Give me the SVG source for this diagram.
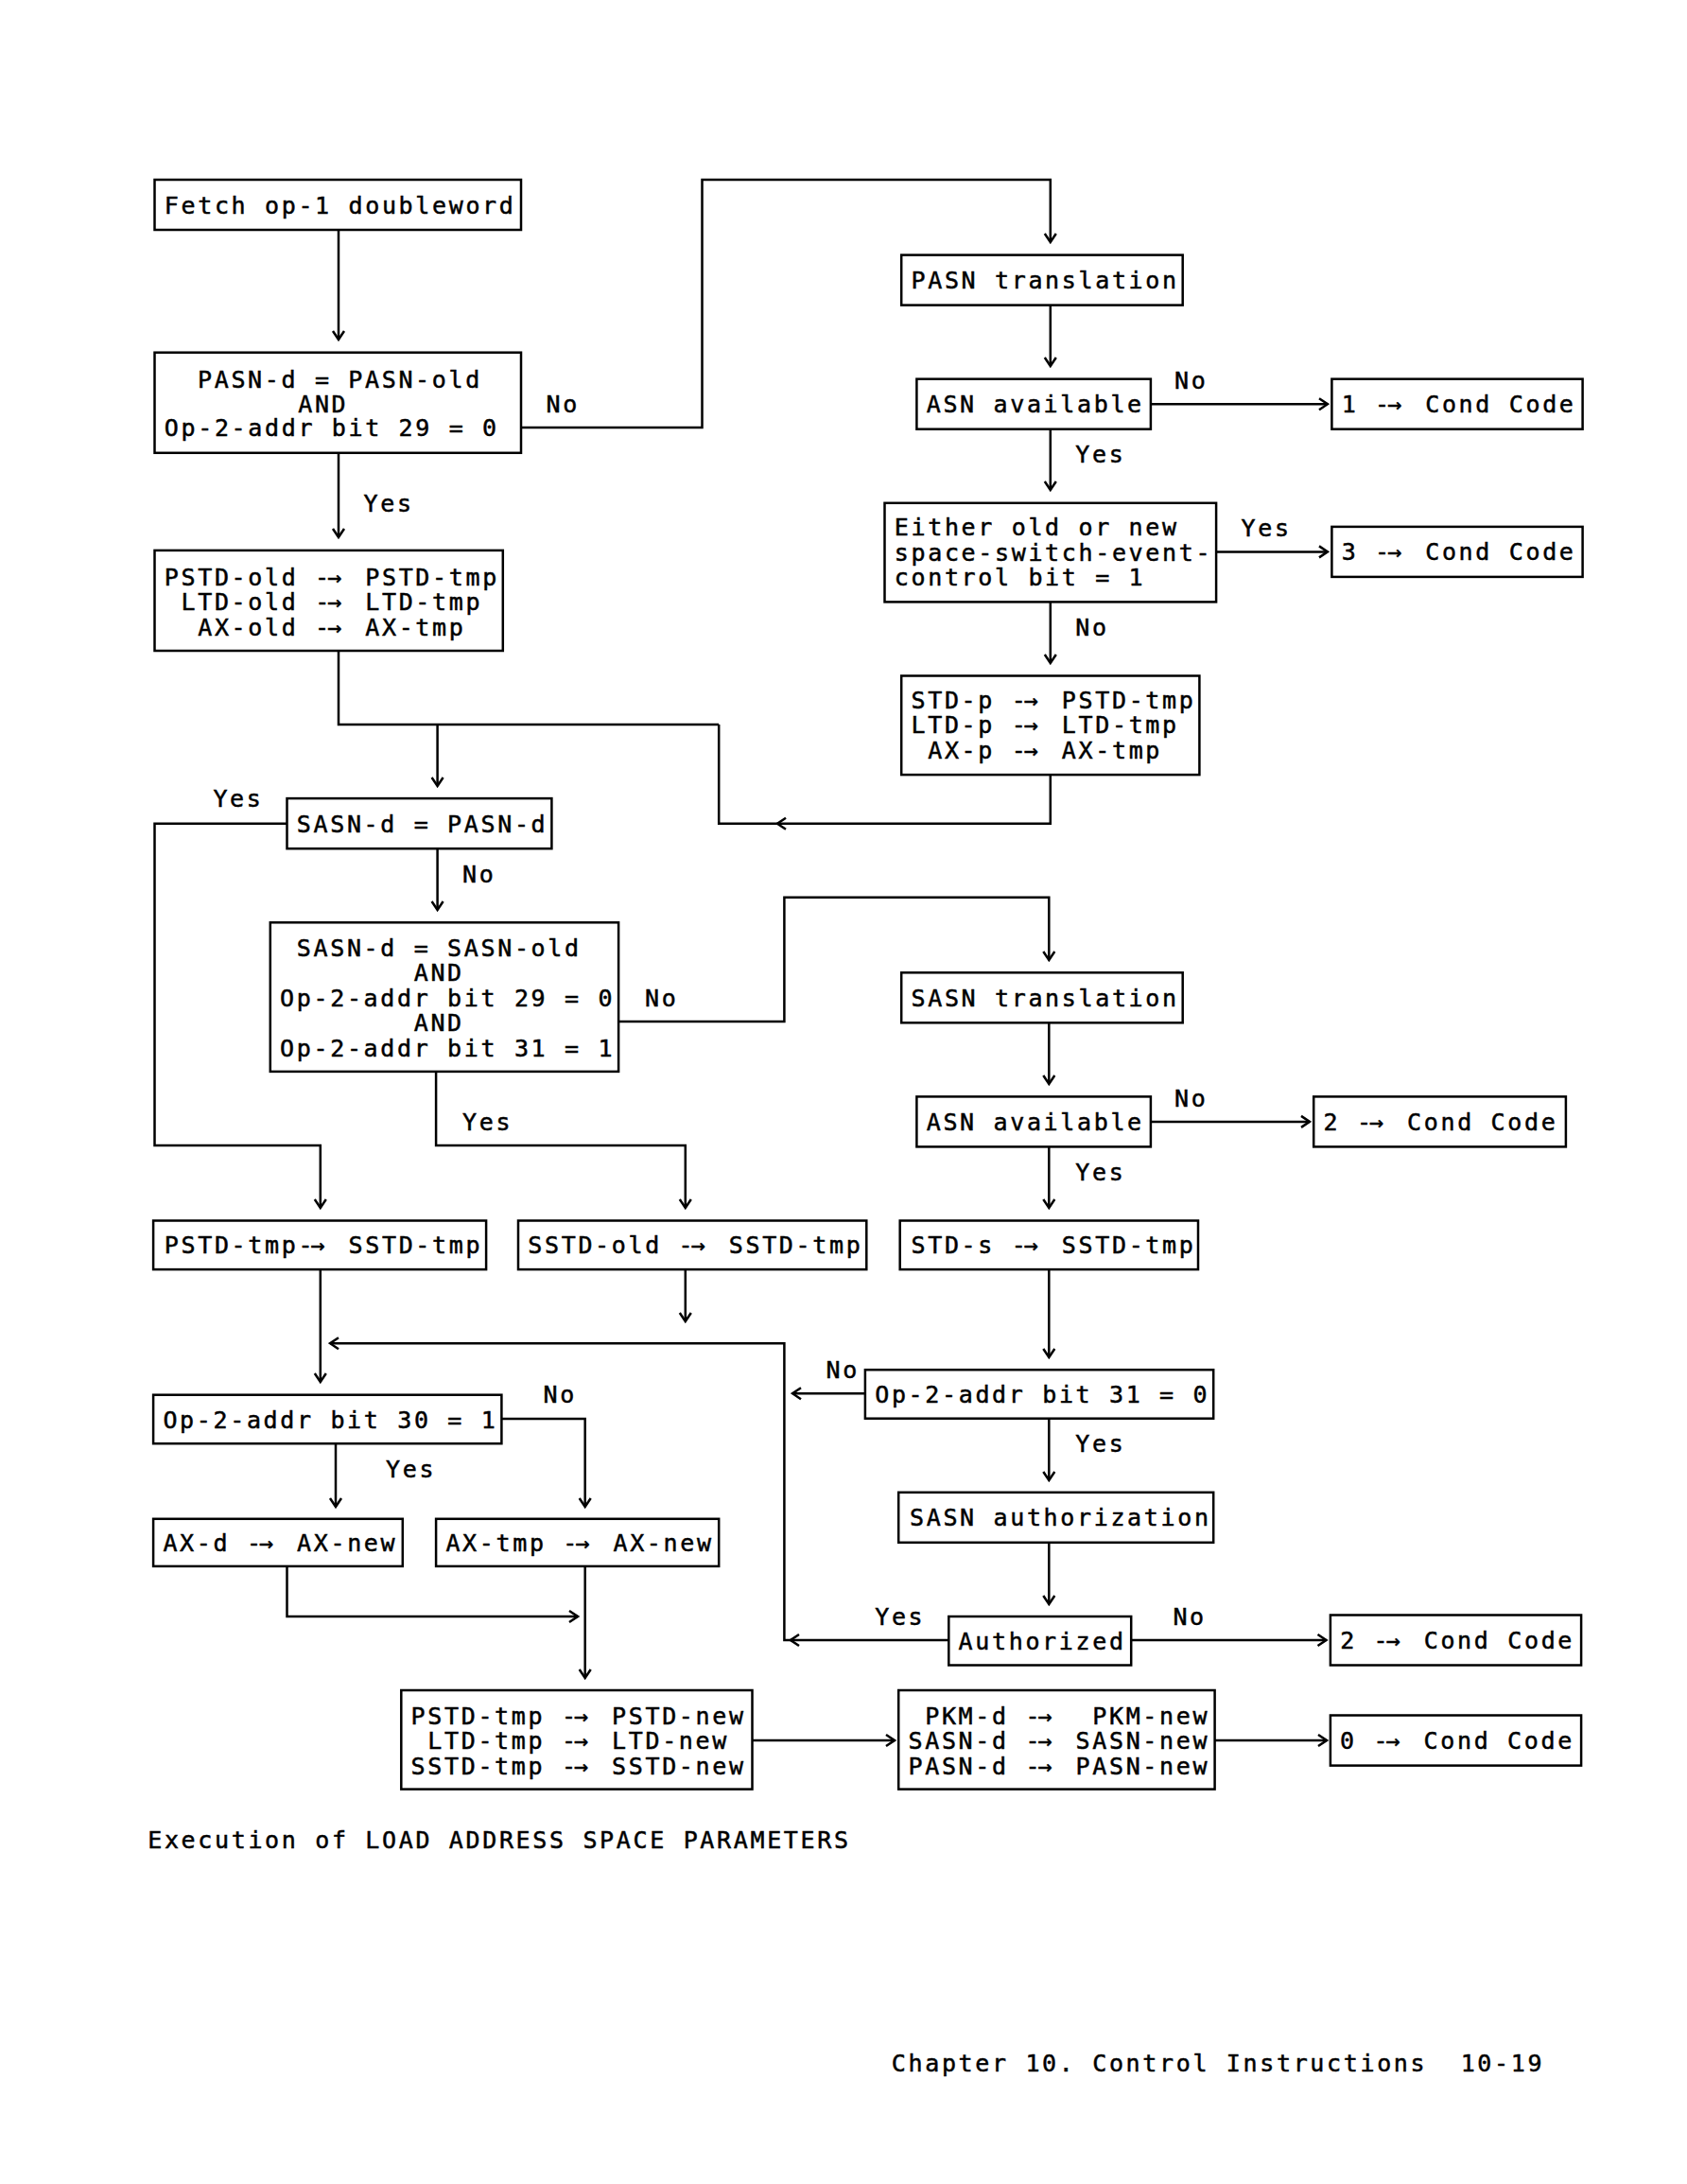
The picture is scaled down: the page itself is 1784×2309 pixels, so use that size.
<svg xmlns="http://www.w3.org/2000/svg" width="1784" height="2309" viewBox="0 0 1784 2309">
<style>
text{font-family:"DejaVu Sans Mono","Liberation Mono",monospace;font-size:25px;letter-spacing:2.65px;fill:#000;stroke:#000;stroke-width:0.5}
.d{letter-spacing:-2px}
.a{letter-spacing:7.3px}
.box{fill:none;stroke:#000;stroke-width:2.5}
.c{fill:none;stroke:#000;stroke-width:2.5}
</style>
<defs>
<marker id="ah" markerWidth="14" markerHeight="16" viewBox="-12 -8 14 16" refX="0" refY="0" orient="auto" markerUnits="userSpaceOnUse">
<path d="M-9,-6 L0,0 L-9,6" fill="none" stroke="#000" stroke-width="2.5"/>
</marker>
</defs>
<rect x="0" y="0" width="1784" height="2309" fill="#fff"/>

<g id="connectors">
<path class="c" d="M358,243 V359" marker-end="url(#ah)"/>
<path class="c" d="M551,452 H742.5 V190 H1110.8 V256" marker-end="url(#ah)"/>
<path class="c" d="M1110.8,322.6 V387" marker-end="url(#ah)"/>
<path class="c" d="M1216.9,427.2 H1404" marker-end="url(#ah)"/>
<path class="c" d="M1110.8,453.7 V518" marker-end="url(#ah)"/>
<path class="c" d="M1286.1,583.4 H1404" marker-end="url(#ah)"/>
<path class="c" d="M1110.8,636.4 V701" marker-end="url(#ah)"/>
<path class="c" d="M358,478.8 V568" marker-end="url(#ah)"/>
<path class="c" d="M358,688 V766 H760.2"/>
<path class="c" d="M1110.8,819.1 V870.7 H760.2 V766"/>
<path class="c" d="M831,864.7 L822,870.7 L831,876.7"/>
<path class="c" d="M462.6,766 V831" marker-end="url(#ah)"/>
<path class="c" d="M303.5,870.7 H163.5 V1211 H338.8 V1277" marker-end="url(#ah)"/>
<path class="c" d="M462.6,897.2 V962" marker-end="url(#ah)"/>
<path class="c" d="M654.1,1079.9 H829.4 V948.7 H1109.3 V1015" marker-end="url(#ah)"/>
<path class="c" d="M461.1,1132.9 V1211 H724.8 V1277" marker-end="url(#ah)"/>
<path class="c" d="M1109.3,1081.3 V1146" marker-end="url(#ah)"/>
<path class="c" d="M1216.9,1185.9 H1385" marker-end="url(#ah)"/>
<path class="c" d="M1109.3,1212.4 V1277" marker-end="url(#ah)"/>
<path class="c" d="M338.8,1342.1 V1461" marker-end="url(#ah)"/>
<path class="c" d="M724.8,1342.1 V1397" marker-end="url(#ah)"/>
<path class="c" d="M1109.3,1342.1 V1435" marker-end="url(#ah)"/>
<path class="c" d="M914.9,1473.2 H838" marker-end="url(#ah)"/>
<path class="c" d="M836,1734 H829.4 V1420.2 H349" marker-end="url(#ah)"/>
<path class="c" d="M1003.3,1734 H836" marker-end="url(#ah)"/>
<path class="c" d="M1196.2,1734 H1402.5" marker-end="url(#ah)"/>
<path class="c" d="M1109.3,1499.7 V1565" marker-end="url(#ah)"/>
<path class="c" d="M1109.3,1630.8 V1696" marker-end="url(#ah)"/>
<path class="c" d="M355,1526.2 V1593" marker-end="url(#ah)"/>
<path class="c" d="M530.4,1500 H618.7 V1593" marker-end="url(#ah)"/>
<path class="c" d="M303.5,1655.9 V1709 H611" marker-end="url(#ah)"/>
<path class="c" d="M618.7,1655.9 V1774" marker-end="url(#ah)"/>
<path class="c" d="M795.5,1840 H946" marker-end="url(#ah)"/>
<path class="c" d="M1284.6,1840 H1403" marker-end="url(#ah)"/>
</g>

<g id="labels">
<text x="577.5" y="436">No</text>
<text x="1242" y="411">No</text>
<text x="1137.3" y="489">Yes</text>
<text x="1312.6" y="567">Yes</text>
<text x="1137.3" y="672">No</text>
<text x="384.5" y="541">Yes</text>
<text x="225.4" y="853">Yes</text>
<text x="489" y="933">No</text>
<text x="682" y="1064">No</text>
<text x="489" y="1195">Yes</text>
<text x="1242" y="1170">No</text>
<text x="1137.3" y="1248">Yes</text>
<text x="873.6" y="1457">No</text>
<text x="1137.3" y="1535">Yes</text>
<text x="925.2" y="1718">Yes</text>
<text x="1240.4" y="1718">No</text>
<text x="574.5" y="1483">No</text>
<text x="408" y="1562">Yes</text>
</g>

<g id="n-fetch"><rect class="box" x="163.5" y="190" width="387.5" height="53"/><text x="173.8" y="225.5">Fetch op-1 doubleword</text></g>
<g id="n-pasn-cmp"><rect class="box" x="163.5" y="372.7" width="387.5" height="106.1"/>
<text x="209" y="410">PASN-d = PASN-old</text><text x="315.2" y="436">AND</text><text x="173.8" y="461">Op-2-addr bit 29 = 0</text></g>
<g id="n-pasn-trans"><rect class="box" x="953.2" y="269.6" width="297.5" height="53"/><text x="963.5" y="305">PASN translation</text></g>
<g id="n-asn1"><rect class="box" x="969.4" y="400.7" width="247.5" height="53"/><text x="979.7" y="436">ASN available</text></g>
<g id="n-cc1"><rect class="box" x="1408.4" y="400.7" width="265.2" height="53"/><text x="1418.7" y="436">1 <tspan class="d">-</tspan><tspan class="a">→</tspan> Cond Code</text></g>
<g id="n-sse"><rect class="box" x="935.5" y="531.8" width="350.6" height="104.6"/>
<text x="945.8" y="566">Either old or new</text><text x="945.8" y="592.5">space-switch-event-</text><text x="945.8" y="619">control bit = 1</text></g>
<g id="n-cc3"><rect class="box" x="1408.4" y="556.9" width="265.2" height="53"/><text x="1418.7" y="592">3 <tspan class="d">-</tspan><tspan class="a">→</tspan> Cond Code</text></g>
<g id="n-stdp"><rect class="box" x="953.2" y="714.5" width="315.2" height="104.6"/>
<text x="963.5" y="748.5">STD-p <tspan class="d">-</tspan><tspan class="a">→</tspan> PSTD-tmp</text><text x="963.5" y="775">LTD-p <tspan class="d">-</tspan><tspan class="a">→</tspan> LTD-tmp</text><text x="981.2" y="801.6">AX-p <tspan class="d">-</tspan><tspan class="a">→</tspan> AX-tmp</text></g>
<g id="n-pstdold"><rect class="box" x="163.5" y="581.9" width="368.3" height="106.1"/>
<text x="173.8" y="619">PSTD-old <tspan class="d">-</tspan><tspan class="a">→</tspan> PSTD-tmp</text><text x="191.5" y="645.4">LTD-old <tspan class="d">-</tspan><tspan class="a">→</tspan> LTD-tmp</text><text x="209.2" y="672">AX-old <tspan class="d">-</tspan><tspan class="a">→</tspan> AX-tmp</text></g>
<g id="n-sasn-pasn"><rect class="box" x="303.5" y="844.1" width="279.9" height="53.1"/><text x="313.8" y="880">SASN-d = PASN-d</text></g>
<g id="n-sasn-cmp"><rect class="box" x="285.8" y="975.3" width="368.3" height="157.6"/>
<text x="313.8" y="1011">SASN-d = SASN-old</text><text x="437.7" y="1037">AND</text><text x="296.1" y="1064">Op-2-addr bit 29 = 0</text><text x="437.7" y="1090">AND</text><text x="296.1" y="1117">Op-2-addr bit 31 = 1</text></g>
<g id="n-sasn-trans"><rect class="box" x="953.2" y="1028.3" width="297.5" height="53"/><text x="963.5" y="1064">SASN translation</text></g>
<g id="n-asn2"><rect class="box" x="969.4" y="1159.4" width="247.5" height="53"/><text x="979.7" y="1195">ASN available</text></g>
<g id="n-cc2a"><rect class="box" x="1389.2" y="1159.4" width="266.7" height="53"/><text x="1399.5" y="1195">2 <tspan class="d">-</tspan><tspan class="a">→</tspan> Cond Code</text></g>
<g id="n-pstdtmp"><rect class="box" x="162.1" y="1290.5" width="352" height="51.6"/><text x="173.8" y="1325">PSTD-tmp<tspan class="d">-</tspan><tspan class="a">→</tspan> SSTD-tmp</text></g>
<g id="n-sstdold"><rect class="box" x="548" y="1290.5" width="368.3" height="51.6"/><text x="558.3" y="1325">SSTD-old <tspan class="d">-</tspan><tspan class="a">→</tspan> SSTD-tmp</text></g>
<g id="n-stds"><rect class="box" x="951.7" y="1290.5" width="315.3" height="51.6"/><text x="963.5" y="1325">STD-s <tspan class="d">-</tspan><tspan class="a">→</tspan> SSTD-tmp</text></g>
<g id="n-bit31"><rect class="box" x="914.9" y="1448.2" width="368.3" height="51.5"/><text x="925.2" y="1483">Op-2-addr bit 31 = 0</text></g>
<g id="n-sasnauth"><rect class="box" x="950.2" y="1577.8" width="333" height="53"/><text x="962" y="1613">SASN authorization</text></g>
<g id="n-auth"><rect class="box" x="1003.3" y="1709" width="192.9" height="51.5"/><text x="1013.6" y="1744">Authorized</text></g>
<g id="n-cc2b"><rect class="box" x="1406.9" y="1707.5" width="265.2" height="53"/><text x="1417.2" y="1743">2 <tspan class="d">-</tspan><tspan class="a">→</tspan> Cond Code</text></g>
<g id="n-bit30"><rect class="box" x="162.1" y="1474.7" width="368.3" height="51.5"/><text x="172.4" y="1509.5">Op-2-addr bit 30 = 1</text></g>
<g id="n-axd"><rect class="box" x="162.1" y="1605.8" width="263.7" height="50.1"/><text x="172.4" y="1640">AX-d <tspan class="d">-</tspan><tspan class="a">→</tspan> AX-new</text></g>
<g id="n-axtmp"><rect class="box" x="461.1" y="1605.8" width="299.1" height="50.1"/><text x="471.4" y="1640">AX-tmp <tspan class="d">-</tspan><tspan class="a">→</tspan> AX-new</text></g>
<g id="n-newstd"><rect class="box" x="424.3" y="1787" width="371.2" height="104.6"/>
<text x="434.6" y="1822.5">PSTD-tmp <tspan class="d">-</tspan><tspan class="a">→</tspan> PSTD-new</text><text x="452.3" y="1849">LTD-tmp <tspan class="d">-</tspan><tspan class="a">→</tspan> LTD-new</text><text x="434.6" y="1875.6">SSTD-tmp <tspan class="d">-</tspan><tspan class="a">→</tspan> SSTD-new</text></g>
<g id="n-pkm"><rect class="box" x="950.2" y="1787" width="334.4" height="104.6"/>
<text x="978.2" y="1822.5" xml:space="preserve">PKM-d <tspan class="d">-</tspan><tspan class="a">→</tspan>  PKM-new</text><text x="960.5" y="1849">SASN-d <tspan class="d">-</tspan><tspan class="a">→</tspan> SASN-new</text><text x="960.5" y="1875.6">PASN-d <tspan class="d">-</tspan><tspan class="a">→</tspan> PASN-new</text></g>
<g id="n-cc0"><rect class="box" x="1406.9" y="1813.5" width="265.2" height="53.1"/><text x="1417" y="1849">0 <tspan class="d">-</tspan><tspan class="a">→</tspan> Cond Code</text></g>

<g id="captions">
<text x="156.2" y="1954">Execution of LOAD ADDRESS SPACE PARAMETERS</text>
<text x="942.8" y="2190" xml:space="preserve">Chapter 10. Control Instructions  10-19</text>
</g>
</svg>
